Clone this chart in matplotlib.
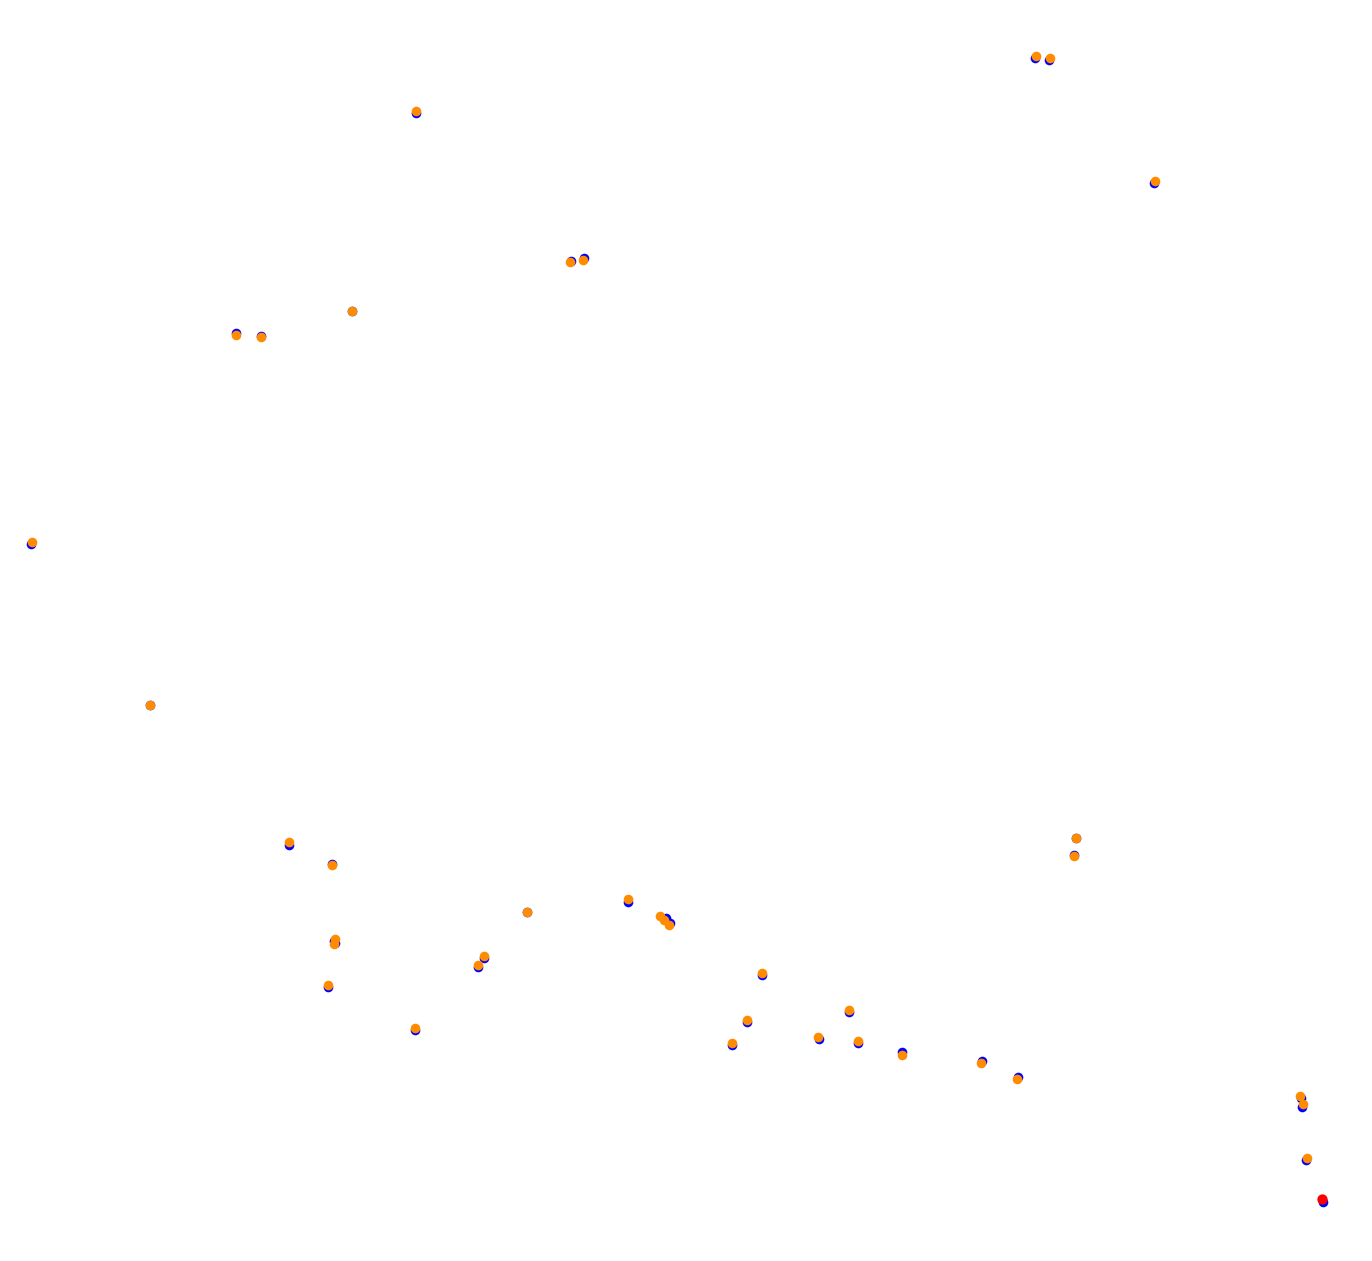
import matplotlib
matplotlib.use("Agg")
import matplotlib.pyplot as plt

# positions in chart units (x right, y down)
blue_x = [1035, 1049, 416, 1154, 571, 584, 236, 261, 31, 289, 332, 334, 335, 328, 415,
          478, 484, 628, 666, 670, 762, 747, 732, 849, 819, 858, 902, 982, 1018, 1074,
          1301, 1302, 1306, 1323, 352, 150, 527, 1076]
blue_y = [58, 60, 113, 183, 261, 258, 333, 336, 544, 845, 864, 941, 943, 987, 1030,
          967, 958, 902, 918, 923, 975, 1022, 1045, 1012, 1039, 1043, 1052, 1061, 1077, 855,
          1098, 1107, 1160, 1202, 311, 705, 912, 838]

orange_x = [1036, 1050, 416, 1155, 570, 583, 236, 261, 32, 289, 332, 335, 334, 328, 415,
            478, 484, 628, 660, 664, 669, 762, 747, 732, 849, 818, 858, 902, 981, 1017,
            1074, 1300, 1303, 1307, 352, 150, 527, 1076]
orange_y = [56, 58, 111, 181, 262, 260, 335, 337, 542, 842, 865, 939, 944, 985, 1028,
            965, 956, 899, 916, 920, 925, 973, 1020, 1043, 1010, 1037, 1041, 1055, 1063, 1079,
            856, 1096, 1104, 1158, 311, 705, 912, 838]

red_x = [1322]
red_y = [1199]

fig = plt.figure(figsize=(13.72, 12.61), dpi=100)
ax = fig.add_axes([0, 0, 1, 1])
ax.scatter(blue_x, blue_y, s=48, color="blue", linewidths=0, zorder=2)
ax.scatter(orange_x, orange_y, s=48, color="#ff8c00", linewidths=0, zorder=3)
ax.scatter(red_x, red_y, s=55, color="red", linewidths=0, zorder=4)
ax.set_xlim(0, 1372)
ax.set_ylim(1261, 0)
ax.axis("off")
fig.savefig("out.png", dpi=100, facecolor="white")
